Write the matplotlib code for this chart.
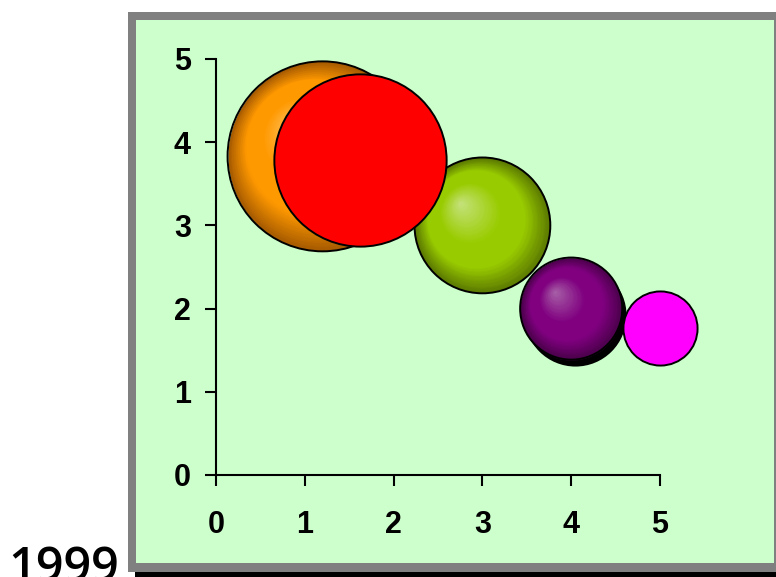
import numpy as np
import matplotlib
matplotlib.use("Agg")
import matplotlib.pyplot as plt
from matplotlib.patches import Rectangle
from matplotlib.colors import LinearSegmentedColormap
from matplotlib.transforms import offset_copy

# bubble data (Excel-like bubble chart)
names = ["orange", "red", "green", "purple", "magenta"]
x_vals = [1.2, 1.62, 3.0, 4.0, 5.0]
y_vals = [3.83, 3.79, 3.0, 2.0, 1.77]
bubble_size = [9.0, 7.4, 4.6, 2.6, 1.37]
ticks = [0, 1, 2, 3, 4, 5]
year_label = "1999"

# face styles: flat colour, or (highlight, main, dark) gradient
flat_col = {"red": "#FF0000", "magenta": "#FF00FF"}
grad_col = {
    "orange": ("#FFC262", "#FF9900", "#A65A00"),
    "green": ("#C6E27E", "#99CC00", "#5A7800"),
    "purple": ("#A862A8", "#800080", "#4A004A"),
}
draw_order = ["orange", "green", "red", "purple", "magenta"]
scale = 2079.0  # points^2 per size unit

plt.rcParams["font.family"] = ["Liberation Sans", "DejaVu Sans"]
plt.rcParams["font.weight"] = "bold"

W, H = 776, 577
fig = plt.figure(figsize=(W / 100, H / 100), dpi=100)
fig.patch.set_facecolor("white")

def px_rect(x0, y0, x1, y1, color, z):
    # rectangle in pixel coords (origin top-left)
    r = Rectangle((x0 / W, 1 - y1 / H), (x1 - x0) / W, (y1 - y0) / H,
                  transform=fig.transFigure, facecolor=color, edgecolor="none",
                  zorder=z)
    fig.add_artist(r)

# panel: black shadow, gray frame, green fill
px_rect(135, 571, 776, 577, "black", -3)
px_rect(128, 12, 776, 572, "#808080", -2)
px_rect(136, 20, 774, 563, "#CCFFCC", -1)

ax = fig.add_axes([216 / W, 1 - 475 / H, 444 / W, 416 / H])
ax.set_facecolor("none")
ax.set_xlim(0, 5)
ax.set_ylim(0, 5)
for sp in ["top", "right"]:
    ax.spines[sp].set_visible(False)
for sp in ["left", "bottom"]:
    ax.spines[sp].set_linewidth(1.5)
ax.set_xticks(ticks)
ax.set_yticks(ticks)
ax.tick_params(axis="both", direction="out", length=8, width=1.5, labelsize=22)
ax.tick_params(axis="y", pad=10)
ax.tick_params(axis="x", pad=17)

z = 3
for nm in draw_order:
    i = names.index(nm)
    s = bubble_size[i] * scale
    xv, yv = x_vals[i], y_vals[i]
    if nm == "purple":
        sh = offset_copy(ax.transData, fig=fig, x=3.0, y=-4.3, units="points")
        ax.scatter([xv], [yv], s=s, color="black", linewidths=0,
                   transform=sh, zorder=z, clip_on=False)
        z += 1
    if nm in flat_col:
        ax.scatter([xv], [yv], s=s, color=flat_col[nm], edgecolors="black",
                   linewidths=1.4, zorder=z, clip_on=False)
        z += 1
        continue
    hi, mid, dk = grad_col[nm]
    cmap = LinearSegmentedColormap.from_list(
        nm, [(0.0, hi), (0.45, mid), (0.72, mid), (1.0, dk)])
    r_pt = np.sqrt(s) / 2
    fx, fy = -0.33 * r_pt, 0.33 * r_pt
    for t in np.linspace(1.0, 0.02, 60):
        tr = offset_copy(ax.transData, fig=fig, x=(1 - t) * fx,
                         y=(1 - t) * fy, units="points")
        ax.scatter([xv], [yv], s=s * t * t, color=cmap(t), linewidths=0,
                   transform=tr, zorder=z, clip_on=False)
        z += 1
    ax.scatter([xv], [yv], s=s, facecolors="none", edgecolors="black",
               linewidths=1.4, zorder=z, clip_on=False)
    z += 1

fig.text(8 / W, 1 - 582 / H, year_label, fontsize=35, fontfamily="Open Sans",
         fontweight="semibold", ha="left", va="baseline")

fig.savefig("out.png", dpi=100, facecolor=fig.get_facecolor())
